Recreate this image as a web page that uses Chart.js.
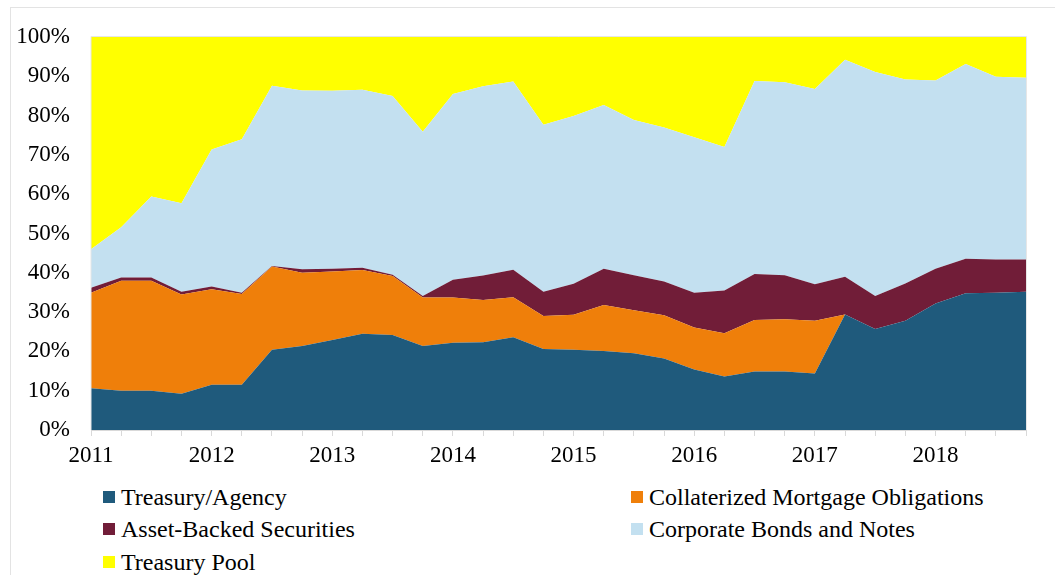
<!DOCTYPE html>
<html lang="en">
<head>
  <meta charset="UTF-8">
  <title>Portfolio Composition</title>
  <script src="https://cdn.jsdelivr.net/npm/chart.js"></script>
  <style>
    body {
      margin: 0;
      background: #fff;
      font-family: 'Liberation Serif', 'Times New Roman', serif;
    }
    .frame {
      position: absolute;
      left: 10px;
      top: 7px;
      width: 1100px;
      height: 600px;
      border: 1px solid #e3e3e3;
    }
    #chart {
      position: absolute;
      left: 0;
      top: 0;
    }
    .legend-item {
      position: absolute;
      display: flex;
      align-items: center;
      font-size: 24px;
      line-height: 32px;
      color: #000;
      white-space: nowrap;
    }
    .legend-item span.box {
      width: 12px;
      height: 12px;
      margin-right: 6px;
      display: inline-block;
    }
  </style>
</head>
<body>
  <div class="frame"></div>
  <canvas id="chart" width="1055" height="475"></canvas>
  <div id="legend"></div>

  <script>
    // quarterly points, 2011 Q1 .. 2018 Q4
    const quarters = [
      '2011 Q1', '2011 Q2', '2011 Q3', '2011 Q4',
      '2012 Q1', '2012 Q2', '2012 Q3', '2012 Q4',
      '2013 Q1', '2013 Q2', '2013 Q3', '2013 Q4',
      '2014 Q1', '2014 Q2', '2014 Q3', '2014 Q4',
      '2015 Q1', '2015 Q2', '2015 Q3', '2015 Q4',
      '2016 Q1', '2016 Q2', '2016 Q3', '2016 Q4',
      '2017 Q1', '2017 Q2', '2017 Q3', '2017 Q4',
      '2018 Q1', '2018 Q2', '2018 Q3', '2018 Q4'
    ];

    // share of portfolio, percent
    const treasuryAgency = [10.6, 10.0, 10.0, 9.2, 11.5, 11.5, 20.4, 21.4, 22.9, 24.5, 24.2, 21.4,
                            22.2, 22.3, 23.6, 20.6, 20.4, 20.1, 19.5, 18.2, 15.4, 13.6, 14.9, 14.9,
                            14.4, 29.4, 25.7, 27.8, 32.2, 34.8, 34.9, 35.2];
    const cmo = [24.3, 28.0, 28.0, 25.3, 24.3, 23.1, 21.2, 18.6, 17.4, 16.2, 15.0, 12.3,
                 11.5, 10.8, 10.2, 8.4, 8.9, 11.7, 11.0, 11.0, 10.7, 11.0, 13.1, 13.3,
                 13.4, 0, 0, 0, 0, 0, 0, 0];
    const assetBacked = [1.3, 0.8, 0.8, 0.7, 0.7, 0.3, 0.1, 0.9, 0.7, 0.6, 0.3, 0.4,
                         4.5, 6.2, 7.0, 6.2, 7.9, 9.2, 8.9, 8.6, 8.8, 10.9, 11.7, 11.2,
                         9.3, 9.6, 8.4, 9.5, 8.8, 8.8, 8.5, 8.2];
    const corporate = [9.8, 12.8, 20.6, 22.5, 34.9, 39.1, 45.9, 45.5, 45.3, 45.3, 45.5, 41.8,
                       47.3, 48.2, 47.9, 42.5, 42.7, 41.7, 39.5, 39.2, 39.6, 36.5, 49.1, 49.1,
                       49.7, 55.2, 57.0, 51.9, 47.9, 49.5, 46.5, 46.2];
    const treasuryPool = [54.0, 48.4, 40.6, 42.3, 28.6, 26.0, 12.4, 13.6, 13.7, 13.4, 15.0, 24.1,
                          14.5, 12.5, 11.3, 22.3, 20.1, 17.3, 21.1, 23.0, 25.5, 28.0, 11.2, 11.5,
                          13.2, 5.8, 8.9, 10.8, 11.1, 6.9, 10.1, 10.4];

    const seriesNames = ['Treasury/Agency', 'Collaterized Mortgage Obligations', 'Asset-Backed Securities',
                         'Corporate Bonds and Notes', 'Treasury Pool'];
    const seriesData = [treasuryAgency, cmo, assetBacked, corporate, treasuryPool];
    const seriesColors = ['#1f5a7c', '#ef7f0a', '#711d38', '#c3e0f0', '#ffff00'];

    const serif = "'Liberation Serif', 'Times New Roman', serif";

    // faint box around the plot area
    const plotBorder = {
      id: 'plotBorder',
      afterDraw(chart) {
        const a = chart.chartArea;
        const ctx = chart.ctx;
        ctx.save();
        ctx.strokeStyle = '#e6e6e6';
        ctx.lineWidth = 1;
        ctx.beginPath();
        ctx.moveTo(a.left, a.bottom);
        ctx.lineTo(a.left, a.top - 0.5);
        ctx.lineTo(a.right + 0.5, a.top - 0.5);
        ctx.lineTo(a.right + 0.5, a.bottom);
        ctx.stroke();
        ctx.restore();
      }
    };

    new Chart(document.getElementById('chart'), {
      type: 'line',
      data: {
        labels: quarters,
        datasets: seriesData.map((d, i) => ({
          label: seriesNames[i],
          data: d,
          backgroundColor: seriesColors[i],
          borderColor: seriesColors[i],
          borderWidth: 0,
          pointRadius: 0,
          tension: 0,
          fill: i === 0 ? 'origin' : '-1'
        }))
      },
      options: {
        responsive: false,
        animation: false,
        layout: { padding: { top: 37, right: 29, left: 0, bottom: 0 } },
        plugins: {
          legend: { display: false },
          tooltip: { enabled: false }
        },
        scales: {
          x: {
            afterFit(scale) { scale.height = 45; },
            grid: {
              drawOnChartArea: false,
              drawTicks: true,
              tickLength: 6,
              color: '#d9d9d9'
            },
            border: { color: '#d9d9d9' },
            ticks: {
              autoSkip: false,
              maxRotation: 0,
              padding: 6,
              color: '#000',
              font: { family: serif, size: 23 },
              callback(v) {
                const q = this.getLabelForValue(v);
                return q.endsWith('Q1') ? q.slice(0, 4) : '';
              }
            }
          },
          y: {
            stacked: true,
            min: 0,
            max: 100,
            afterFit(scale) { scale.width = 91; },
            grid: { display: false, drawTicks: false },
            border: { display: false },
            ticks: {
              stepSize: 10,
              padding: 21,
              color: '#000',
              font: { family: serif, size: 23 },
              callback: v => v + '%'
            }
          }
        }
      },
      plugins: [plotBorder]
    });

    // two-column legend under the plot
    const legend = document.getElementById('legend');
    const colX = [103, 631];
    const rowY = [481, 513, 546];
    seriesNames.forEach((name, i) => {
      const item = document.createElement('div');
      item.className = 'legend-item';
      item.style.left = colX[i % 2] + 'px';
      item.style.top = rowY[Math.floor(i / 2)] + 'px';
      item.innerHTML = '<span class="box" style="background:' + seriesColors[i] + '"></span>' + name;
      legend.appendChild(item);
    });
  </script>
</body>
</html>
